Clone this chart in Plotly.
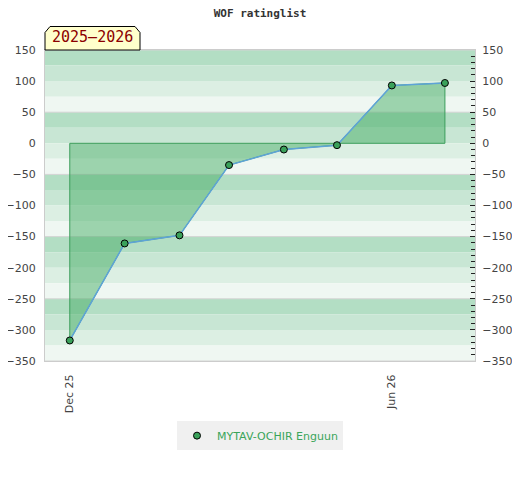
import plotly.graph_objects as go

# ---- data ----
dates = ["2025-12-01", "2026-01-01", "2026-02-01", "2026-03-01",
         "2026-04-01", "2026-05-01", "2026-06-01", "2026-07-01"]
ratings = [-317, -161, -148, -35, -10, -3, 93, 97]
player = "MYTAV-OCHIR Enguun"
season = "2025–2026"
tick_dates = ["2025-12-01", "2026-06-01"]
tick_labels = ["Dec 25", "Jun 26"]

Y_MIN, Y_MAX = -350, 150

fig = go.Figure()

# filled area between series and zero
poly_x = [dates[0]] + dates + [dates[-1], dates[0]]
poly_y = [0] + ratings + [0, 0]
fig.add_trace(go.Scatter(
    x=poly_x, y=poly_y, mode="lines", fill="toself",
    fillcolor="rgba(64,169,96,0.47)",
    line=dict(color="#3c9e5c", width=1),
    hoverinfo="skip", showlegend=False,
))

fig.add_trace(go.Scatter(
    x=dates, y=ratings, mode="lines", name=player,
    line=dict(color="#5ea3d8", width=1.5),
    yaxis="y2", showlegend=False, hoverinfo="skip",
))
fig.add_trace(go.Scatter(
    x=dates, y=ratings, mode="markers", name=player,
    marker=dict(color="#3aa15a", size=7, line=dict(color="black", width=1)),
    yaxis="y2",
))

# background bands
band_colors = ["#b3dec4", "#c8e6d4", "#dcefe3", "#eff7f2"]
shapes = []
v = Y_MAX
i = 0
while v > Y_MIN:
    shapes.append(dict(type="rect", xref="paper", yref="y", x0=0, x1=1,
                       y0=v - 25, y1=v, fillcolor=band_colors[i % 4],
                       line=dict(width=0), layer="below"))
    v -= 25
    i += 1
for g in range(Y_MAX, Y_MIN - 1, -100):
    shapes.append(dict(type="line", xref="paper", yref="y", x0=0, x1=1,
                       y0=g, y1=g, line=dict(color="#d4d4d4", width=1),
                       layer="below"))

# season label box with clipped top corners (paper coords)
bx1, by0, by1 = 95 / 430, 1.0, 1 + 23.5 / 311
cx, cy = 5 / 430, 6 / 311
shapes.append(dict(
    type="path", xref="paper", yref="paper", layer="above",
    path=(f"M 0,{by0} L 0,{by1 - cy} L {cx},{by1} L {bx1 - cx},{by1} "
          f"L {bx1},{by1 - cy} L {bx1},{by0} Z"),
    fillcolor="#ffffcc", line=dict(color="black", width=1),
))

tickfont = dict(family="DejaVu Sans", size=11, color="#444444")

# page body has an 8px margin, so the figure is sized/placed to compensate
fig.update_layout(
    width=504, height=464,
    margin=dict(l=37, r=37, t=42, b=111),
    paper_bgcolor="white", plot_bgcolor="white",
    title=dict(text="WOF ratinglist", x=0.5, xanchor="center",
               y=1 - 5 / 464, yanchor="middle", yref="container",
               font=dict(family="DejaVu Sans Mono", size=11, color="#333333",
                         weight="bold")),
    xaxis=dict(type="date", range=["2025-11-17", "2026-07-18"],
               tickvals=tick_dates, ticktext=tick_labels, tickangle=-90,
               showgrid=False, zeroline=False, showline=True,
               linecolor="#cccccc", linewidth=1, mirror=True, automargin=False,
               ticks="", ticklabelstandoff=8, tickfont=tickfont),
    yaxis=dict(range=[Y_MIN, Y_MAX], dtick=50, showgrid=False,
               zeroline=False, showline=True, linecolor="#cccccc",
               automargin=False,
               ticks="", ticklabelstandoff=6, tickfont=tickfont),
    yaxis2=dict(range=[Y_MIN, Y_MAX], dtick=50, overlaying="y", side="right",
                showgrid=False, zeroline=False, showline=True,
                linecolor="#cccccc", ticks="inside", ticklen=5,
                tickcolor="#222222", tickwidth=1, automargin=False,
                minor=dict(dtick=10, ticks="inside", ticklen=4,
                           tickcolor="#222222"),
                ticklabelstandoff=4, tickfont=tickfont),
    shapes=shapes,
    showlegend=True,
    legend=dict(orientation="h", x=0.5, xanchor="center", y=-0.24,
                yanchor="middle", bgcolor="#f0f0f0",
                font=dict(family="DejaVu Sans", size=11, color="#3aa55a")),
    annotations=[dict(text=season, xref="paper", yref="paper",
                      x=bx1 / 2, y=(by0 + by1) / 2 + 1 / 311,
                      xanchor="center", yanchor="middle", showarrow=False,
                      font=dict(family="DejaVu Sans Mono", size=15,
                                color="#8b0000"))],
)

fig.write_html("out.html")
